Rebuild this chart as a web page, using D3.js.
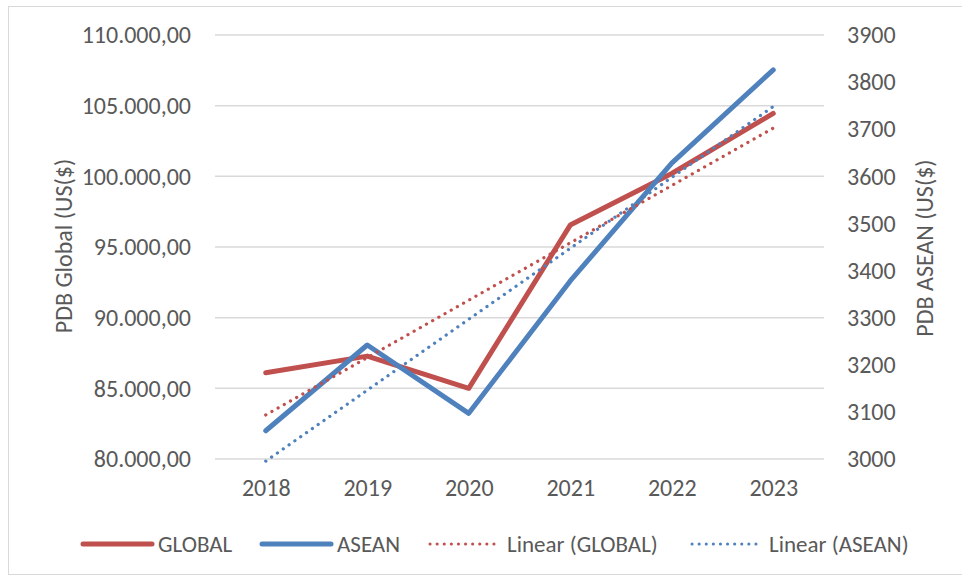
<!DOCTYPE html>
<html>
<head>
<meta charset="utf-8">
<script src="https://cdn.jsdelivr.net/npm/d3@7"></script>
<style>
  body { margin: 0; background: #fff; }
  text { font-family: Carlito, Calibri, Lato, sans-serif; fill: #595959; }
  .tick text { font-size: 24px; }
  .axisLabel { font-size: 24px; }
  .legendText { font-size: 23px; }
</style>
</head>
<body>
<div id="chart"></div>
<script>
// Data
var years = ["2018", "2019", "2020", "2021", "2022", "2023"];
var globalValues = [86100, 87280, 85000, 96550, 100200, 104450];
var aseanValues = [3060, 3242, 3097, 3378, 3628, 3826];
var leftTicks = [80000, 85000, 90000, 95000, 100000, 105000, 110000];
var rightTicks = [3000, 3100, 3200, 3300, 3400, 3500, 3600, 3700, 3800, 3900];

// Set Spacing Guidelines
var margin = {top: 35, right: 138, bottom: 118, left: 215};
var width = 962 - margin.left - margin.right;
var height = 577 - margin.top - margin.bottom;
var colors = ["#C0504D", "#4F81BD"];

var svg = d3.select("#chart")
  .append("svg")
  .attr("width", 962)
  .attr("height", 577);

// chart border
svg.append("rect")
  .attr("x", 8.5).attr("y", 6.5)
  .attr("width", 962).attr("height", 568)
  .attr("fill", "none")
  .attr("stroke", "#d9d9d9");

var g = svg.append("g")
  .attr("transform", "translate(" + margin.left + "," + margin.top + ")");

var xScale = d3.scalePoint()
  .domain(years)
  .range([0, width])
  .padding(0.5);

var yLeft = d3.scaleLinear().domain([80000, 110000]).range([height, 0]);
var yRight = d3.scaleLinear().domain([3000, 3900]).range([height, 0]);

// gridlines
g.selectAll(".grid")
  .data(leftTicks)
  .enter()
  .append("line")
  .attr("x1", 0).attr("x2", width)
  .attr("y1", function(d) { return yLeft(d); })
  .attr("y2", function(d) { return yLeft(d); })
  .attr("stroke", "#d9d9d9")
  .attr("stroke-width", 1.5);

// Left axis, Indonesian number format
var fmt = function(d) {
  return d3.format(",.2f")(d).replace(/,/g, "#").replace(".", ",").replace(/#/g, ".");
};
var leftAxis = g.append("g")
  .call(d3.axisLeft(yLeft).tickValues(leftTicks).tickFormat(fmt).tickSize(0).tickPadding(24));
leftAxis.select(".domain").remove();

// Right axis
var rightAxis = g.append("g")
  .attr("transform", "translate(" + width + ",0)")
  .call(d3.axisRight(yRight).tickValues(rightTicks).tickFormat(d3.format("d")).tickSize(0).tickPadding(23));
rightAxis.select(".domain").remove();

// x axis
var xAxis = g.append("g")
  .attr("transform", "translate(0," + height + ")")
  .call(d3.axisBottom(xScale).tickSize(0).tickPadding(20));
xAxis.select(".domain").remove();

// linear trend from the series
function trend(values) {
  var n = values.length;
  var mx = (n - 1) / 2;
  var my = d3.mean(values);
  var sxy = 0, sxx = 0;
  values.forEach(function(v, i) { sxy += (i - mx) * (v - my); sxx += (i - mx) * (i - mx); });
  var b = sxy / sxx;
  return values.map(function(v, i) { return my + b * (i - mx); });
}

var lineLeft = d3.line()
  .x(function(d, i) { return xScale(years[i]); })
  .y(function(d) { return yLeft(d); });
var lineRight = d3.line()
  .x(function(d, i) { return xScale(years[i]); })
  .y(function(d) { return yRight(d); });

var trendLeft = trend(globalValues);
var trendRight = trend(aseanValues);

g.append("path")
  .datum(globalValues)
  .attr("d", lineLeft)
  .attr("fill", "none")
  .attr("stroke", colors[0])
  .attr("stroke-width", 5)
  .attr("stroke-linejoin", "round")
  .attr("stroke-linecap", "round");

g.append("path")
  .datum(aseanValues)
  .attr("d", lineRight)
  .attr("fill", "none")
  .attr("stroke", colors[1])
  .attr("stroke-width", 5)
  .attr("stroke-linejoin", "round")
  .attr("stroke-linecap", "round");

g.append("path")
  .datum(trendLeft)
  .attr("d", lineLeft)
  .attr("fill", "none")
  .attr("stroke", colors[0])
  .attr("stroke-width", 3.2)
  .attr("stroke-dasharray", "0.1 7")
  .attr("stroke-linecap", "round");

g.append("path")
  .datum(trendRight)
  .attr("d", lineRight)
  .attr("fill", "none")
  .attr("stroke", colors[1])
  .attr("stroke-width", 3.2)
  .attr("stroke-dasharray", "0.1 7")
  .attr("stroke-linecap", "round");

// Axis titles
svg.append("text")
  .attr("transform", "translate(72,246) rotate(-90)")
  .style("text-anchor", "middle")
  .text("PDB Global (US($)")
  .attr("class", "axisLabel");

svg.append("text")
  .attr("transform", "translate(933,248) rotate(-90)")
  .style("text-anchor", "middle")
  .text("PDB ASEAN (US($)")
  .attr("class", "axisLabel");

// Legend
var legendItems = [
  {label: "GLOBAL", color: colors[0], dotted: false, x: 83},
  {label: "ASEAN", color: colors[1], dotted: false, x: 262},
  {label: "Linear (GLOBAL)", color: colors[0], dotted: true, x: 430},
  {label: "Linear (ASEAN)", color: colors[1], dotted: true, x: 692}
];
var legend = svg.selectAll(".legend")
  .data(legendItems)
  .enter()
  .append("g")
  .attr("transform", function(d) { return "translate(" + d.x + ",544)"; });

legend.append("line")
  .attr("x1", 0).attr("x2", function(d) { return d.dotted ? 68 : 69; })
  .attr("y1", 0).attr("y2", 0)
  .attr("stroke", function(d) { return d.color; })
  .attr("stroke-width", function(d) { return d.dotted ? 3 : 5; })
  .attr("stroke-dasharray", function(d) { return d.dotted ? "0.1 7" : null; })
  .attr("stroke-linecap", "round");

legend.append("text")
  .attr("x", function(d) { return d.dotted ? 77 : 75; })
  .attr("dy", "0.35em")
  .text(function(d) { return d.label; })
  .attr("class", "legendText");
</script>
</body>
</html>
